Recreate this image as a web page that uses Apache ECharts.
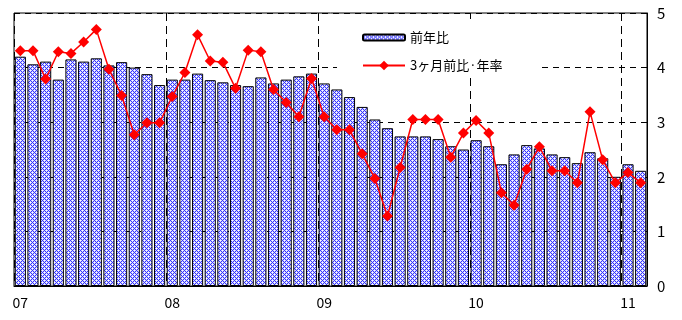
<!DOCTYPE html>
<html>
<head>
<meta charset="utf-8">
<script src="https://cdn.jsdelivr.net/npm/echarts@6/dist/echarts.min.js"></script>
<style>
  html, body { margin: 0; padding: 0; background: #fff; }
  #chart { width: 682px; height: 320px; }
</style>
</head>
<body>
<div id="chart"></div>
<script>
// 2007/01 - 2011/02, monthly
var months = [];
for (var y = 7; y <= 11; y++) {
    for (var m = 1; m <= 12; m++) {
        if (y === 11 && m > 2) break;
        months.push((y < 10 ? '0' + y : '' + y) + '/' + m);
    }
}
var yoy = [ //前年比
    4.20, 4.06, 4.11, 3.78, 4.15, 4.11, 4.17, 4.04, 4.10, 4.00, 3.88, 3.68,
    3.78, 3.78, 3.89, 3.77, 3.73, 3.68, 3.66, 3.82, 3.71, 3.78, 3.84, 3.89,
    3.71, 3.60, 3.46, 3.28, 3.05, 2.89, 2.74, 2.74, 2.74, 2.69, 2.56, 2.50,
    2.67, 2.56, 2.23, 2.41, 2.58, 2.52, 2.41, 2.36, 2.25, 2.45, 2.34, 2.00,
    2.23, 2.11
];
var ann3m = [ //3ヶ月前比・年率
    4.31, 4.31, 3.79, 4.29, 4.26, 4.47, 4.70, 3.97, 3.49, 2.77, 2.99, 2.99,
    3.47, 3.91, 4.60, 4.12, 4.10, 3.62, 4.32, 4.29, 3.60, 3.36, 3.10, 3.80,
    3.10, 2.86, 2.86, 2.42, 1.97, 1.28, 2.17, 3.05, 3.05, 3.05, 2.36, 2.80,
    3.03, 2.80, 1.71, 1.48, 2.14, 2.55, 2.11, 2.11, 1.89, 3.19, 2.31, 1.89,
    2.08, 1.89
];
var yTicks = [0, 1, 2, 3, 4, 5];

// crosshatch fill for the bars
var pat = document.createElement('canvas');
pat.width = 4; pat.height = 4;
var ctx = pat.getContext('2d');
ctx.fillStyle = '#3535ff';
ctx.fillRect(0, 0, 4, 4);
ctx.fillStyle = '#d4d4ff';
[[1,0],[3,0],[0,1],[0,3],[1,2],[3,2],[2,1],[2,3]].forEach(function (p) { ctx.fillRect(p[0], p[1], 1, 1); });
ctx.fillStyle = '#ffffff';
ctx.fillRect(0, 0, 1, 1);
ctx.fillRect(2, 2, 1, 1);

var legendText = { fontFamily: 'Noto Sans CJK JP', fontSize: 13, color: '#000' };

var chart = echarts.init(document.getElementById('chart'));
var option = {
    animation: false,
    grid: {
        left: 14, right: 35, top: 13, bottom: 34,
        show: true, borderColor: '#000', borderWidth: 1
    },
    graphic: [{
        type: 'rect',
        shape: { x: 337, y: 19, width: 200, height: 54 },
        style: { fill: '#fff' },
        z: 3
    }],
    legend: [{
        left: 357, top: 26, padding: 5,
        itemWidth: 42, itemHeight: 6,
        textStyle: legendText,
        data: ['前年比']
    }, {
        left: 357, top: 54, padding: 5,
        itemWidth: 42, itemHeight: 12,
        textStyle: legendText,
        data: ['3ヶ月前比·年率']
    }],
    xAxis: {
        type: 'category',
        data: months,
        boundaryGap: true,
        axisLine: { lineStyle: { color: '#000', width: 1 } },
        axisTick: { show: false },
        axisLabel: {
            interval: function (i) { return i % 12 === 0; },
            formatter: function (v) { return v.split('/')[0]; },
            margin: 10,
            fontFamily: 'Noto Sans CJK JP', fontSize: 14, color: '#000'
        },
        splitLine: {
            show: true,
            interval: function (i) { return i % 12 === 0; },
            lineStyle: { color: '#000', type: [8, 5], width: 1 }
        }
    },
    yAxis: {
        type: 'value',
        position: 'right',
        min: yTicks[0], max: yTicks[yTicks.length - 1], interval: 1,
        axisLine: { show: true, lineStyle: { color: '#000', width: 1 } },
        axisTick: { show: true, inside: true, length: 4, lineStyle: { color: '#000' } },
        axisLabel: { margin: 10, fontFamily: 'Noto Sans CJK JP', fontSize: 15, color: '#000' },
        splitLine: { show: true, lineStyle: { color: '#000', type: [6, 5], width: 1 } }
    },
    series: [{
        name: '前年比',
        type: 'bar',
        data: yoy,
        barCategoryGap: '12%',
        itemStyle: {
            color: { image: pat, repeat: 'repeat' },
            borderColor: '#000',
            borderWidth: 1
        }
    }, {
        name: '3ヶ月前比·年率',
        type: 'line',
        data: ann3m,
        symbol: 'diamond',
        symbolSize: 11,
        showAllSymbol: true,
        lineStyle: { color: '#ff0000', width: 1.5 },
        itemStyle: { color: '#ff0000' },
        z: 5
    }]
};
chart.setOption(option);
window.addEventListener('resize', function () { chart.resize(); });
</script>
</body>
</html>
